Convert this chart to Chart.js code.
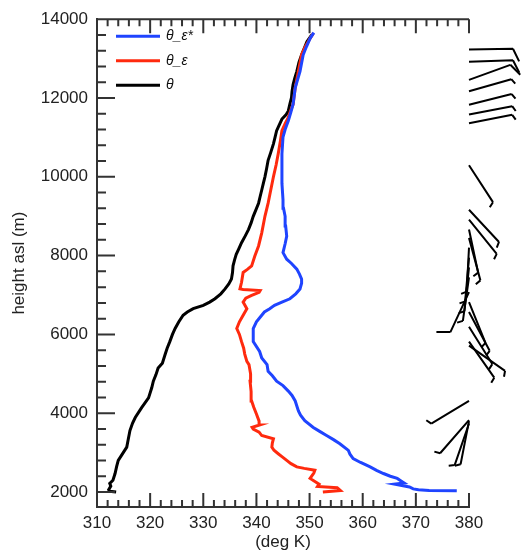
<!DOCTYPE html>
<html>
<head>
<meta charset="utf-8">
<script src="https://cdn.jsdelivr.net/npm/chart.js@4.4.0/dist/chart.umd.min.js"></script>
<style>
html, body { margin: 0; padding: 0; background: #fff; }
</style>
</head>
<body>
<canvas id="sounding" width="523" height="554"></canvas>
<script>
// theta (black)
const thetaHeight = [2000, 2020, 2060, 2150, 2220, 2300, 2470, 2650, 2805, 2950, 3140, 3350, 3560, 3750, 3890, 4143, 4390, 4645, 4813, 4980, 5147, 5270, 5483, 5650, 5817, 6000, 6150, 6320, 6487, 6570, 6653, 6738, 6820, 6905, 7030, 7155, 7280, 7405, 7570, 7740, 7900, 8033, 8180, 8327, 8500, 8660, 8830, 8997, 9160, 9330, 9500, 9665, 9833, 10000, 10200, 10418, 10620, 10837, 11000, 11170, 11320, 11465, 11580, 11673, 11850, 12010, 12170, 12343, 12500, 12677, 12900, 13096, 13260, 13430, 13600];
const thetaValue = [313.6, 312.4, 312.2, 312.6, 312.4, 313.0, 313.4, 313.7, 314.0, 314.7, 315.6, 315.9, 316.2, 316.7, 317.2, 318.4, 319.7, 320.3, 320.6, 321.1, 321.5, 322.3, 322.8, 323.2, 323.7, 324.2, 324.7, 325.4, 326.2, 327.0, 328.1, 330.0, 331.2, 332.2, 333.3, 334.1, 334.8, 335.3, 335.5, 335.6, 335.9, 336.2, 336.7, 337.2, 337.9, 338.5, 339.0, 339.4, 339.9, 340.4, 340.7, 341.0, 341.3, 341.6, 341.9, 342.2, 342.7, 343.2, 343.5, 343.8, 344.3, 344.8, 345.6, 346.0, 346.3, 346.6, 346.7, 346.9, 347.2, 347.6, 348.0, 348.5, 349.0, 349.5, 350.4];

// theta_e (red)
const thetaEHeight = [2000, 2040, 2110, 2140, 2200, 2345, 2480, 2555, 2600, 2638, 2720, 2805, 2900, 2973, 3060, 3140, 3250, 3350, 3433, 3520, 3600, 3640, 3700, 3800, 3978, 4150, 4311, 4550, 4813, 5000, 5232, 5315, 5500, 5650, 5817, 6000, 6150, 6320, 6487, 6653, 6820, 6920, 6990, 7070, 7115, 7140, 7155, 7323, 7574, 7650, 7740, 7990, 8245, 8578, 8997, 9331, 9600, 10000, 10300, 10586, 10900, 11170, 11350, 11508, 11700, 11841, 12260, 12677, 13096, 13300, 13515, 13640];
const thetaEValue = [352.5, 355.8, 355.2, 351.5, 351.8, 350.1, 350.8, 351.0, 349.0, 347.6, 346.5, 345.7, 344.8, 344.1, 343.3, 342.9, 343.0, 343.2, 341.0, 340.5, 339.4, 339.2, 340.6, 340.5, 340.0, 339.5, 339.1, 339.0, 338.8, 338.9, 338.6, 338.2, 337.8, 337.6, 337.2, 336.8, 336.3, 336.8, 337.5, 338.2, 337.5, 338.0, 339.1, 340.5, 340.7, 337.5, 336.9, 337.2, 337.5, 338.3, 339.1, 339.7, 340.4, 341.0, 341.6, 342.2, 342.6, 343.2, 343.7, 344.1, 344.5, 344.8, 345.4, 346.0, 346.5, 346.9, 347.3, 347.9, 348.5, 349.2, 350.1, 350.7];

// theta_e* (blue)
const thetaESHeight = [2030, 2040, 2060, 2080, 2130, 2200, 2230, 2300, 2345, 2400, 2470, 2550, 2638, 2750, 2848, 2960, 3056, 3225, 3330, 3433, 3540, 3640, 3810, 3950, 4060, 4311, 4450, 4562, 4700, 4813, 4950, 5064, 5232, 5400, 5566, 5817, 6150, 6318, 6487, 6570, 6653, 6738, 6820, 6905, 7030, 7155, 7300, 7405, 7530, 7657, 7800, 7908, 8076, 8300, 8495, 8750, 8997, 9200, 9414, 9833, 10167, 10586, 11006, 11200, 11421, 11650, 11841, 12260, 12677, 13096, 13300, 13515, 13660];
const thetaESValue = [377.7, 372.5, 370.5, 369.5, 368.8, 366.0, 367.8, 367.0, 366.5, 365.2, 363.9, 362.6, 361.4, 359.6, 358.2, 357.6, 357.3, 355.7, 354.5, 353.2, 351.9, 350.7, 349.1, 348.3, 347.9, 347.3, 346.7, 346.0, 345.0, 343.8, 343.0, 342.2, 342.0, 341.0, 340.6, 339.4, 339.4, 340.0, 341.0, 341.5, 342.5, 343.4, 344.8, 346.3, 347.4, 348.2, 348.5, 348.5, 348.1, 347.6, 346.6, 345.7, 345.0, 345.4, 345.7, 345.5, 345.4, 345.1, 345.0, 344.8, 344.8, 344.8, 345.0, 345.4, 346.0, 346.5, 346.9, 347.3, 348.2, 348.8, 349.4, 350.1, 350.8];

// wind barbs: base height (m), direction (deg, from north), speed (kt)
const windHeight = [13230, 12920, 12460, 12170, 11830, 11580, 11360, 10293, 9163, 8912, 8661, 8450, 8202, 7951, 7700, 7449, 7072, 6821, 6570, 6194, 5817, 5717, 4311, 3827, 3740, 3800];
const windDir = [89, 88, 70, 74, 76, 79, 79, 147, 137, 141, 168, 165, 183, 185, 186, 188, 205, 158, 152, 148, 145, 125, 239, 221, 199, 191];
const windSpeed = [10, 10, 10, 5, 5, 5, 5, 5, 5, 5, 5, 5, 5, 5, 5, 5, 10, 5, 5, 5, 5, 5, 5, 5, 5, 5];

const xTicks = [310, 320, 330, 340, 350, 360, 370, 380];
const yTicks = [2000, 4000, 6000, 8000, 10000, 12000, 14000];

const legendLabels = ['θ_ε*', 'θ_ε', 'θ'];

Chart.defaults.font.family = "'Liberation Sans', Arial, Helvetica, sans-serif";
Chart.defaults.color = '#222';

const toPoints = (hs, vs) => hs.map((h, i) => ({ x: vs[i], y: h }));

// inward ticks + top frame line, IDL style
const frameTicks = {
  id: 'frameTicks',
  afterDraw(chart) {
    const { ctx, chartArea: a, scales: { x, y } } = chart;
    ctx.save();
    ctx.strokeStyle = '#333';
    ctx.lineWidth = 2;
    ctx.beginPath();
    ctx.moveTo(a.left, a.top);
    ctx.lineTo(a.right, a.top);
    for (let v = x.min; v <= x.max; v += 2) {
      const px = x.getPixelForValue(v);
      const len = v % 10 === 0 ? 14 : 7;
      ctx.moveTo(px, a.bottom);
      ctx.lineTo(px, a.bottom - len);
      ctx.moveTo(px, a.top);
      ctx.lineTo(px, a.top + len);
    }
    for (let v = 2000; v <= y.max; v += 400) {
      const py = y.getPixelForValue(v);
      const len = v % 2000 === 0 ? 18 : 9;
      ctx.moveTo(a.left, py);
      ctx.lineTo(a.left + len, py);
    }
    ctx.stroke();
    ctx.restore();
  }
};

const legendBox = {
  id: 'legendBox',
  afterDraw(chart) {
    const { ctx, chartArea: a } = chart;
    ctx.save();
    ctx.font = "italic 14px 'Liberation Sans', Arial, sans-serif";
    ctx.textBaseline = 'middle';
    chart.data.datasets.forEach((ds, i) => {
      const yy = a.top + 17 + i * 24.5;
      ctx.strokeStyle = ds.borderColor;
      ctx.lineWidth = 3;
      ctx.beginPath();
      ctx.moveTo(a.left + 19, yy);
      ctx.lineTo(a.left + 63, yy);
      ctx.stroke();
      ctx.fillStyle = '#111';
      ctx.fillText(legendLabels[i], a.left + 69, yy);
    });
    ctx.restore();
  }
};

const windBarbs = {
  id: 'windBarbs',
  afterDraw(chart) {
    const { ctx, scales: { x, y } } = chart;
    const baseX = x.getPixelForValue(x.max);
    const shaft = 44;
    ctx.save();
    ctx.strokeStyle = '#000';
    ctx.lineWidth = 2;
    windHeight.forEach((h, i) => {
      const by = y.getPixelForValue(h);
      const rad = windDir[i] * Math.PI / 180;
      const ux = Math.sin(rad), uy = -Math.cos(rad);
      const tx = baseX + ux * shaft, ty = by + uy * shaft;
      ctx.beginPath();
      ctx.moveTo(baseX, by);
      ctx.lineTo(tx, ty);
      const fa = Math.atan2(uy, ux) + 65 * Math.PI / 180;
      const fx = Math.cos(fa), fy = Math.sin(fa);
      let spd = windSpeed[i];
      let back = 0;
      while (spd >= 10) {
        const sx = tx - ux * back, sy = ty - uy * back;
        ctx.moveTo(sx, sy);
        ctx.lineTo(sx + fx * 14, sy + fy * 14);
        spd -= 10;
        back += 5;
      }
      if (spd >= 5) {
        const sx = tx - ux * back, sy = ty - uy * back;
        ctx.moveTo(sx, sy);
        ctx.lineTo(sx + fx * 6, sy + fy * 6);
      }
      ctx.stroke();
    });
    ctx.restore();
  }
};

new Chart(document.getElementById('sounding'), {
  type: 'scatter',
  data: {
    datasets: [
      { label: 'theta_es', data: toPoints(thetaESHeight, thetaESValue), borderColor: '#1f44ff', showLine: true, borderWidth: 3, pointRadius: 0 },
      { label: 'theta_e', data: toPoints(thetaEHeight, thetaEValue), borderColor: '#ff2a0e', showLine: true, borderWidth: 3, pointRadius: 0 },
      { label: 'theta', data: toPoints(thetaHeight, thetaValue), borderColor: '#000000', showLine: true, borderWidth: 3, pointRadius: 0 }
    ]
  },
  options: {
    responsive: false,
    devicePixelRatio: 1,
    animation: false,
    layout: { padding: { left: 0, right: 54, top: 14, bottom: 0 } },
    plugins: {
      legend: { display: false },
      tooltip: { enabled: false }
    },
    scales: {
      x: {
        type: 'linear',
        min: 310,
        max: 380,
        afterBuildTicks: s => { s.ticks = xTicks.map(v => ({ value: v })); },
        afterFit: s => { s.height = 47; },
        ticks: { font: { size: 17 }, padding: 6, maxRotation: 0, callback: v => String(v) },
        grid: { display: false, drawTicks: false },
        border: { display: true, color: '#333', width: 2 },
        title: { display: true, text: '(deg K)', font: { size: 17 }, padding: { top: 0, bottom: 1 } }
      },
      y: {
        type: 'linear',
        min: 1620,
        max: 14000,
        afterBuildTicks: s => { s.ticks = yTicks.map(v => ({ value: v })); },
        afterFit: s => { s.width = 97; },
        ticks: { font: { size: 17 }, padding: 9, callback: v => String(v) },
        grid: { display: false, drawTicks: false },
        border: { display: true, color: '#333', width: 2 },
        title: { display: true, text: 'height asl (m)', font: { size: 17 }, padding: { top: 9, bottom: 0 } }
      }
    }
  },
  plugins: [frameTicks, legendBox, windBarbs]
});
</script>
</body>
</html>
